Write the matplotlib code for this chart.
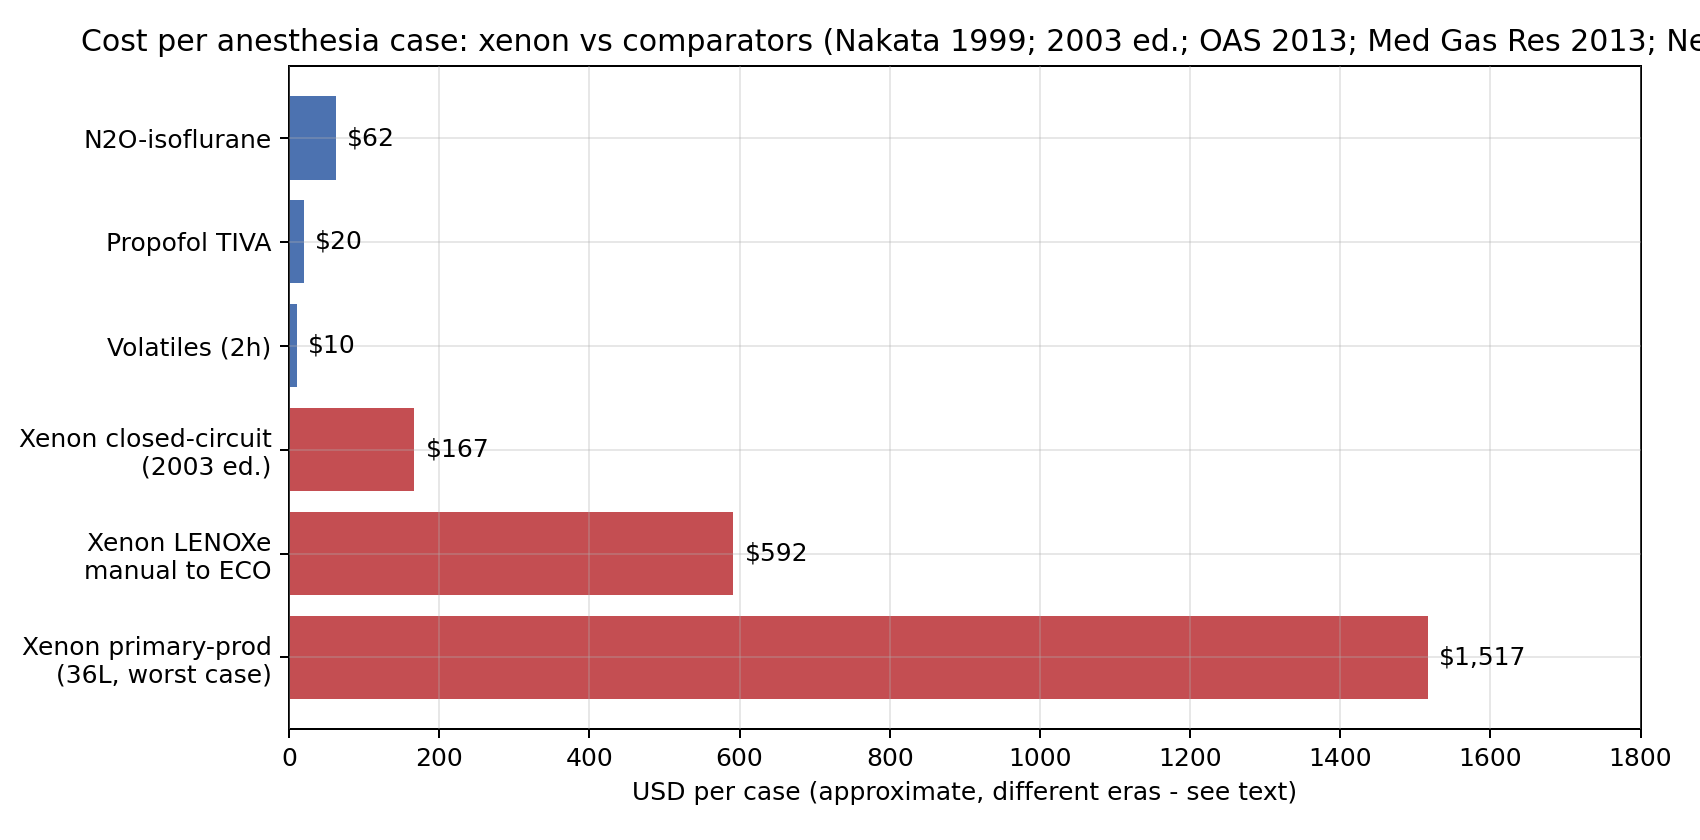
import numpy as np
import matplotlib
matplotlib.use("Agg")
import matplotlib.pyplot as plt

# cost per case, top to bottom as shown
labels = ["N2O-isoflurane", "Propofol TIVA", "Volatiles (2h)",
          "Xenon closed-circuit\n(2003 ed.)", "Xenon LENOXe\nmanual to ECO",
          "Xenon primary-prod\n(36L, worst case)"]
costs = [62, 20, 10, 167, 592, 1517]
is_xenon = [False, False, False, True, True, True]

blue = "#4C72B0"
red = "#C44E52"

fig = plt.figure(figsize=(1700 / 180, 840 / 180), dpi=180)
ax = fig.add_axes([0.170, 0.132, 0.795, 0.789])

y = np.arange(len(labels))
colors = [red if x else blue for x in is_xenon]
ax.barh(y, costs, height=0.8, color=colors, zorder=2)
ax.set_yticks(y)
ax.set_yticklabels(labels)
ax.invert_yaxis()

for yi, c in zip(y, costs):
    ax.text(c + 15, yi, "\\$" + format(c, ","), va="center", ha="left", fontsize=10)

ax.set_xlim(0, 1800)
ax.grid(True, alpha=0.3, zorder=0)
ax.set_axisbelow(False)
ax.set_xlabel("USD per case (approximate, different eras - see text)")
ax.set_title("Cost per anesthesia case: xenon vs comparators (Nakata 1999; 2003 ed.; "
             "OAS 2013; Med Gas Res 2013; Neice 2016)")

fig.savefig("out.png", dpi=180)
